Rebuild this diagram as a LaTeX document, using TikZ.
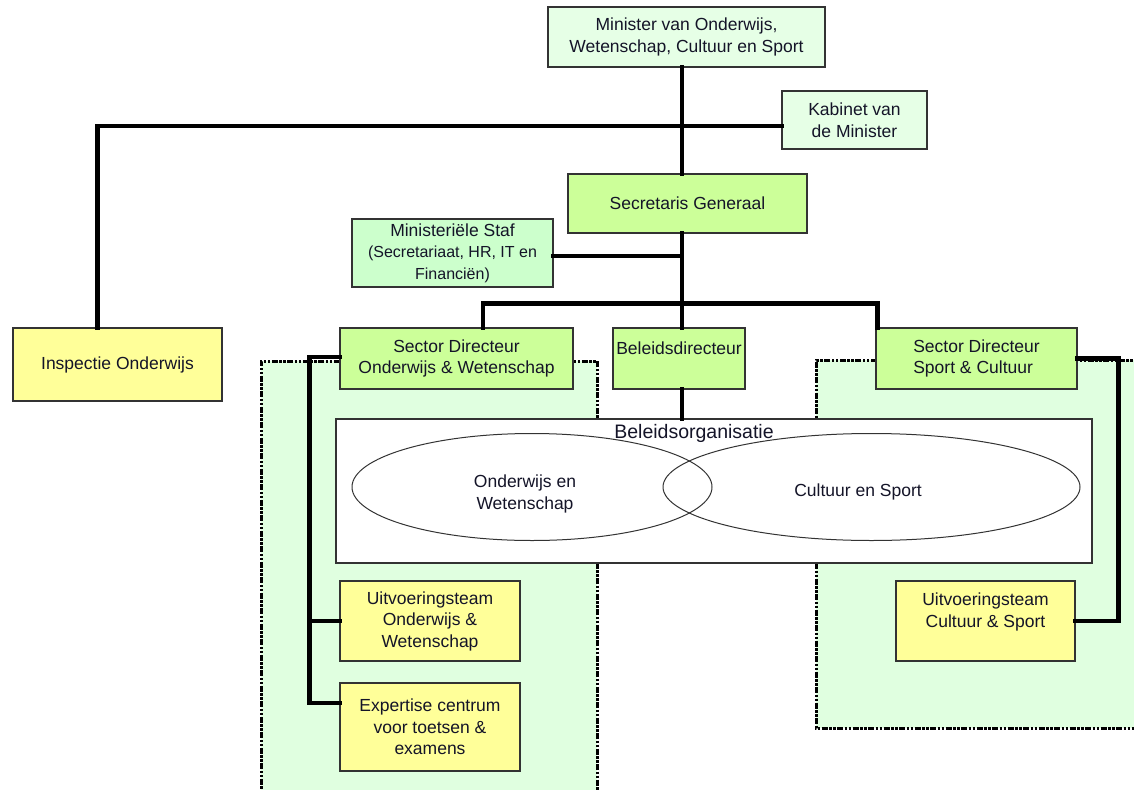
\documentclass[tikz,border=0pt]{standalone}
\usepackage{fontspec}
\setmainfont{Liberation Sans}
\usetikzlibrary{shapes.geometric}
\definecolor{regfill}{HTML}{E0FFE0}
\definecolor{palegreen}{HTML}{E6FFE6}
\definecolor{stafgreen}{HTML}{CCFFCC}
\definecolor{lime}{HTML}{CCFF99}
\definecolor{lightyellow}{HTML}{FFFF99}
\definecolor{boxline}{HTML}{333333}
\definecolor{txt}{HTML}{141428}
\tikzset{
  orgbox/.style={draw=boxline, line width=1.2pt, inner sep=0pt, align=center,
    font=\fontsize{17.5}{21.5}\selectfont, text=txt},
  conn/.style={line width=4.6pt, line join=miter, line cap=rect, black},
  regborder/.style={line width=3pt, black, dash pattern=on 6pt off 1.5pt on 2.5pt off 1.5pt on 2.5pt off 1.5pt},
  venn/.style={ellipse, draw=boxline, line width=1pt, inner sep=0pt},
  venntext/.style={inner sep=0pt, align=center, font=\fontsize{17.5}{21.5}\selectfont, text=txt}
}
\begin{document}
\begin{tikzpicture}[x=1pt,y=-1pt]
\useasboundingbox (0,0) rectangle (1134,789);
\fill[white] (0,0) rectangle (1134,789);
\clip (0,0) rectangle (1134,789);

% green regions
\fill[regfill] (261,361) rectangle (597,800);
\draw[regborder] (261,800) -- (261,361) -- (597,361) -- (597,800);
\fill[regfill] (816,360) rectangle (1140,728);
\draw[regborder] (1140,360) -- (816,360) -- (816,728) -- (1140,728);

% Beleidsorganisatie
\node[draw=boxline, line width=1.2pt, fill=white, minimum width=756, minimum height=144, inner sep=0pt] (borg) at (714,491) {};
\node[font=\fontsize{19.5}{22}\selectfont, text=txt, inner sep=0pt] (borglab) at (694,433) {Beleidsorganisatie};
\node[venn, minimum width=360, minimum height=107] (vow) at (532,487) {};
\node[venn, minimum width=417, minimum height=107] (vcs) at (871.5,487) {};
\node[venntext] (vowt) at (525,494) {Onderwijs en\\Wetenschap};
\node[venntext] (vcst) at (858,492) {Cultuur en Sport};

% boxes
\node[orgbox, fill=palegreen, minimum width=277, minimum height=60] (min) at (686.5,37) {Minister van Onderwijs,\\Wetenschap, Cultuur en Sport};
\node[orgbox, fill=palegreen, minimum width=145, minimum height=58] (kab) at (854.5,120) {Kabinet van\\de Minister};
\node[orgbox, fill=lightyellow, minimum width=209, minimum height=73] (insp) at (117.5,364.5) {Inspectie Onderwijs};
\node[orgbox, fill=lime, minimum width=239, minimum height=59] (sec) at (687.5,203.5) {Secretaris Generaal};
\node[orgbox, fill=stafgreen, minimum width=201, minimum height=68] (staf) at (452.5,253) {Ministeriële Staf\\{\fontsize{16}{20}\selectfont (Secretariaat, HR, IT en}\\{\fontsize{16}{20}\selectfont Financiën)}};
\node[orgbox, fill=lime, minimum width=233, minimum height=61] (sdow) at (456.5,358.5) {Sector Directeur\\Onderwijs \& Wetenschap};
\node[orgbox, fill=lime, minimum width=132, minimum height=61] (beleid) at (679,358.5) {Beleidsdirecteur\\\mbox{}};
\node[orgbox, fill=lime, minimum width=201, minimum height=61, align=left] (sdsc) at (976.5,358.5) {Sector Directeur\\Sport \& Cultuur};
\node[orgbox, fill=lightyellow, minimum width=180, minimum height=80] (utow) at (430,621) {Uitvoeringsteam\\Onderwijs \&\\Wetenschap};
\node[orgbox, fill=lightyellow, minimum width=180, minimum height=88] (exp) at (430,727) {Expertise centrum\\voor toetsen \&\\examens};
\node[orgbox, fill=lightyellow, minimum width=179, minimum height=80] (utcs) at (985.5,621) {Uitvoeringsteam\\Cultuur \& Sport\\\mbox{}};

% connectors
\coordinate (spine) at (682,0);
\draw[conn] (min.south -| spine) -- (sec.north -| spine);
\draw[conn] ([yshift=-6pt]kab.west) -| ([xshift=-20pt]insp.north);
\draw[conn] ([yshift=-3pt]staf.east) -- ([yshift=-3pt]staf.east -| spine);
\draw[conn] (sec.south -| spine) -- (beleid.north -| spine);
\draw[conn] ([xshift=26.5pt]sdow.north) -- ++(0,-24) -| ([xshift=2pt]sdsc.north west);
\draw[conn] (beleid.south -| spine) -- (borg.north -| spine);
\draw[conn] ([yshift=1.5pt]sdow.west) -| ([xshift=-30pt,yshift=24pt]exp.west) -- ([yshift=24pt]exp.west);
\draw[conn] (utow.west) -- ++(-30,0);
\draw[conn] (sdsc.east) -| ([xshift=43pt]utcs.east) -- (utcs.east);
\end{tikzpicture}
\end{document}
